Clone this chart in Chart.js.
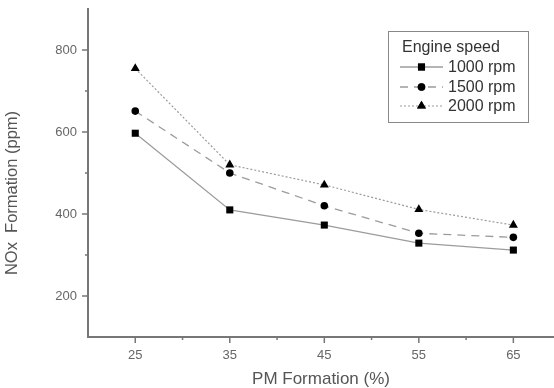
<!DOCTYPE html>
<html>
<head>
<meta charset="utf-8">
<script src="https://cdn.jsdelivr.net/npm/chart.js@4.4.0/dist/chart.umd.min.js"></script>
<style>
  html, body { margin: 0; padding: 0; background: #fff; }
  #wrap { width: 554px; height: 388px; }
</style>
</head>
<body>
<div id="wrap"><canvas id="noxChart" width="554" height="388"></canvas></div>
<script>
// PM formation (%) on x, NOx formation (ppm) on y
var pmFormation = [25, 35, 45, 55, 65];
var nox1000 = [597, 410, 373, 329, 312];
var nox1500 = [651, 500, 420, 353, 343];
var nox2000 = [755, 520, 471, 411, 373];

var xMajorTicks = [25, 35, 45, 55, 65];
var xMinorTicks = [30, 40, 50, 60];
var yMajorTicks = [200, 400, 600, 800];
var yMinorTicks = [300, 500, 700];

var seriesNames = ["1000 rpm", "1500 rpm", "2000 rpm"];

function toPoints(ys) {
    var pts = [];
    for (var i = 0; i < pmFormation.length; i++) {
        pts.push({x: pmFormation[i], y: ys[i]});
    }
    return pts;
}

function noPadding(scale) {
    scale.paddingTop = 0;
    scale.paddingBottom = 0;
    scale.paddingLeft = 0;
    scale.paddingRight = 0;
}

var FONT = "'Liberation Sans', Arial, Helvetica, sans-serif";
var lineGrey = "#9c9c9c";
var axisGrey = "#777";

// tick marks, y title and the boxed legend
var extrasPlugin = {
    id: "extras",
    afterDraw: function (chart) {
        var ctx = chart.ctx;
        var xs = chart.scales.x, ys = chart.scales.y;
        var area = chart.chartArea;
        ctx.save();
        ctx.strokeStyle = axisGrey;
        ctx.lineWidth = 1.5;
        ctx.beginPath();
        yMajorTicks.forEach(function (v) {
            var p = ys.getPixelForValue(v);
            ctx.moveTo(area.left - 6, p); ctx.lineTo(area.left, p);
        });
        yMinorTicks.forEach(function (v) {
            var p = ys.getPixelForValue(v);
            ctx.moveTo(area.left - 3, p); ctx.lineTo(area.left, p);
        });
        xMajorTicks.forEach(function (v) {
            var p = xs.getPixelForValue(v);
            ctx.moveTo(p, area.bottom); ctx.lineTo(p, area.bottom + 6);
        });
        xMinorTicks.forEach(function (v) {
            var p = xs.getPixelForValue(v);
            ctx.moveTo(p, area.bottom); ctx.lineTo(p, area.bottom + 3);
        });
        ctx.stroke();

        // y axis title
        ctx.fillStyle = "#555";
        ctx.font = "16.5px " + FONT;
        ctx.textAlign = "center";
        ctx.textBaseline = "middle";
        ctx.translate(12, 193);
        ctx.rotate(-Math.PI / 2);
        ctx.fillText("NOx  Formation (ppm)", 0, 0);
        ctx.restore();

        // legend box
        ctx.save();
        ctx.strokeStyle = "#888";
        ctx.lineWidth = 1;
        ctx.strokeRect(388.5, 31.5, 140, 91);
        ctx.fillStyle = "#333";
        ctx.font = "16px " + FONT;
        ctx.textAlign = "left";
        ctx.textBaseline = "middle";
        ctx.fillText("Engine speed", 402, 48);
        var rowsY = [67, 87, 106];
        chart.data.datasets.forEach(function (ds, i) {
            var y = rowsY[i];
            ctx.save();
            ctx.strokeStyle = ds.borderColor;
            ctx.lineWidth = ds.borderWidth;
            ctx.setLineDash(ds.borderDash || []);
            ctx.beginPath();
            ctx.moveTo(400, y); ctx.lineTo(443, y);
            ctx.stroke();
            ctx.restore();
            Chart.helpers.drawPoint(ctx, {
                pointStyle: ds.pointStyle,
                radius: ds.pointRadius,
                borderWidth: 0,
                rotation: 0
            }, 421.5, y);
            ctx.fillStyle = "#000";
            ctx.fill();
            ctx.fillStyle = "#333";
            ctx.fillText(ds.label, 448, y + 0.5);
        });
        ctx.restore();
    }
};

var ctx = document.getElementById("noxChart").getContext("2d");
var noxChart = new Chart(ctx, {
    type: "line",
    data: {
        datasets: [
            {
                label: seriesNames[0],
                data: toPoints(nox1000),
                borderColor: lineGrey,
                borderWidth: 1.3,
                pointStyle: "rect",
                pointRadius: 5,
                pointBackgroundColor: "#000",
                pointBorderColor: "#000",
                pointBorderWidth: 0
            },
            {
                label: seriesNames[1],
                data: toPoints(nox1500),
                borderColor: lineGrey,
                borderWidth: 1.3,
                borderDash: [8, 6],
                pointStyle: "circle",
                pointRadius: 3.8,
                pointBackgroundColor: "#000",
                pointBorderColor: "#000",
                pointBorderWidth: 0
            },
            {
                label: seriesNames[2],
                data: toPoints(nox2000),
                borderColor: lineGrey,
                borderWidth: 1.2,
                borderDash: [2, 2],
                pointStyle: "triangle",
                pointRadius: 5.2,
                pointBackgroundColor: "#000",
                pointBorderColor: "#000",
                pointBorderWidth: 0
            }
        ]
    },
    options: {
        responsive: false,
        animation: false,
        layout: { autoPadding: false, padding: { top: 9, right: 0, bottom: 0, left: 0 } },
        plugins: {
            legend: { display: false },
            tooltip: { enabled: false }
        },
        scales: {
            x: {
                type: "linear",
                min: 20,
                max: 69.3,
                afterFit: function (scale) { scale.height = 51; noPadding(scale); },
                afterBuildTicks: function (scale) {
                    scale.ticks = xMajorTicks.map(function (v) { return {value: v}; });
                },
                grid: { display: false, drawTicks: false },
                border: { display: true, color: axisGrey, width: 2 },
                ticks: {
                    padding: 11,
                    color: "#666",
                    font: { family: FONT, size: 13 }
                },
                title: {
                    display: true,
                    text: "PM Formation (%)",
                    color: "#555",
                    padding: 0,
                    font: { family: FONT, size: 17, lineHeight: 1 }
                }
            },
            y: {
                min: 100,
                max: 900,
                afterFit: function (scale) { scale.width = 88; noPadding(scale); },
                afterBuildTicks: function (scale) {
                    scale.ticks = yMajorTicks.map(function (v) { return {value: v}; });
                },
                grid: { display: false, drawTicks: false },
                border: { display: true, color: axisGrey, width: 2 },
                ticks: {
                    padding: 11,
                    color: "#666",
                    font: { family: FONT, size: 13 }
                }
            }
        }
    },
    plugins: [extrasPlugin]
});
</script>
</body>
</html>
